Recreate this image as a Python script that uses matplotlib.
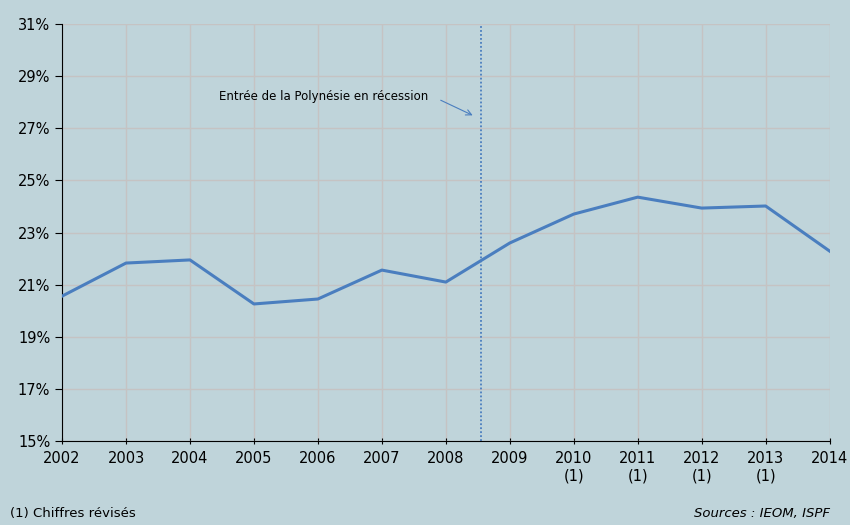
import numpy as np
import matplotlib.pyplot as plt
from matplotlib.ticker import FuncFormatter

annees = [2002, 2003, 2004, 2005, 2006, 2007, 2008, 2009, 2010, 2011, 2012, 2013, 2014]
taux = [20.56, 21.83, 21.95, 20.26, 20.45, 21.56, 21.10, 22.60, 23.71, 24.36, 23.94, 24.02, 22.29]
revises = [2010, 2011, 2012, 2013]
recession = 2008.55

fond = '#bfd4da'
bleu = '#4a7ebf'

fig = plt.figure(figsize=(8.5, 5.25), dpi=100, facecolor=fond)
ax = fig.add_axes([0.073, 0.16, 0.903, 0.794])
ax.set_facecolor(fond)

ax.plot(annees, taux, color=bleu, lw=2.2, zorder=3)
ax.axvline(recession, color=bleu, lw=1.3, ls=(0, (1, 1.2)), zorder=2)

# texte + petite flèche séparée
ax.text(2007.72, 28.24, 'Entrée de la Polynésie en récession', fontsize=8.5, ha='right', va='center')
ax.annotate('', xy=(2008.42, 27.5), xytext=(2007.92, 28.08),
            arrowprops=dict(arrowstyle='->', color=bleu, lw=0.8, shrinkA=0, shrinkB=0))

ax.set_xlim(2002, 2014)
ax.set_ylim(15, 31)
ax.set_xticks(annees)
ax.set_xticklabels([f'{a}\n(1)' if a in revises else str(a) for a in annees], fontsize=10.5, va='top')
ax.set_yticks(np.arange(15, 32, 2))
ax.yaxis.set_major_formatter(FuncFormatter(lambda v, p: f'{v:.0f}%'))
ax.tick_params(axis='y', labelsize=10.5, length=5, direction='out')
ax.tick_params(axis='x', length=5, direction='inout', pad=5)

ax.grid(True, color='#c5c3c3', lw=1)
ax.set_axisbelow(True)
for s in ['top', 'right']:
    ax.spines[s].set_visible(False)
ax.spines['left'].set_color('black')
ax.spines['bottom'].set_color('black')

fig.text(0.012, 0.01, '(1) Chiffres révisés', fontsize=9.5, va='bottom')
fig.text(0.976, 0.01, 'Sources : IEOM, ISPF', fontsize=9.5, style='italic', ha='right', va='bottom')

fig.savefig('out.png', dpi=100, facecolor=fond)
